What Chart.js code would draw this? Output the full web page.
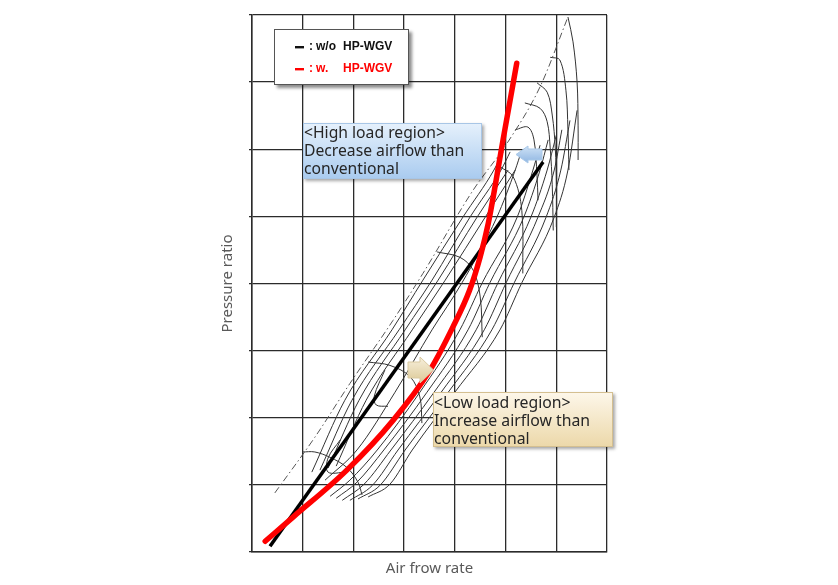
<!DOCTYPE html>
<html>
<head>
<meta charset="utf-8">
<script src="https://cdn.jsdelivr.net/npm/chart.js@4"></script>
<style>
  html, body { margin: 0; padding: 0; background: #fff; }
  canvas { display: block; }
</style>
</head>
<body>
<canvas id="mapChart" width="838" height="585"></canvas>
<script>
// Axis labels
const xTitle = 'Air frow rate';
const yTitle = 'Pressure ratio';

// Operating lines [air flow, pressure ratio] (grid units, 7 x 8 cells)
const withoutWGV = [[3.55, 0.85], [57.4, 58.1]];
const withWGV = [[2.6, 1.6], [8.1, 5.2], [18.7, 12.2], [27.8, 19.6], [35.1, 27.1],
  [39.6, 33.5], [42.9, 39.0], [45.0, 44.0], [46.6, 49.0], [47.8, 53.9], [49.5, 61.4], [52.2, 72.8]];

// Surge line
const surgeLine = [[4.5, 8.8], [12.4, 17.1], [19.3, 25.1], [27.8, 34.5], [33.7, 41.5],
  [43.6, 53.9], [50.3, 60.9], [56.8, 69.3], [62.3, 79.7]];

// Efficiency contours (thin diagonal lines)
const contours = [
  [[11.8, 11.9], [18.3, 22.6], [27.6, 33.1], [33.7, 40.5], [41.6, 49.9], [47.7, 56.9], [49.5, 59.6]],
  [[13.4, 12.2], [19.7, 22.6], [29.0, 33.1], [35.5, 40.5], [43.0, 49.9], [49.1, 56.9], [50.9, 59.6]],
  [[15.0, 12.5], [21.1, 22.6], [30.2, 33.1], [36.7, 40.5], [44.4, 49.9], [50.5, 56.9]],
  [[16.6, 12.8], [22.5, 22.6], [31.6, 33.1], [38.1, 40.5], [46.0, 49.9], [51.9, 56.9]],
  [[14.4, 10.7], [20.7, 15.2], [28.2, 23.8], [35.5, 33.1], [41.4, 40.1], [48.3, 49.9], [51.9, 56.9], [53.2, 59.9]],
  [[15.4, 8.3], [19.3, 10.7], [24.7, 15.2], [33.1, 23.8], [41.0, 33.1], [45.4, 40.1], [52.3, 49.9], [55.4, 56.9], [56.8, 60.6]],
  [[16.6, 8.0], [20.7, 10.4], [26.0, 15.2], [34.5, 23.8], [42.6, 33.1], [46.9, 40.1], [53.6, 49.9], [56.8, 56.9], [58.4, 61.4]],
  [[17.8, 7.7], [22.1, 10.1], [27.4, 15.2], [35.9, 23.8], [44.2, 33.1], [48.5, 40.1], [55.0, 49.9], [58.2, 56.9], [60.0, 62.1]],
  [[19.3, 7.7], [23.7, 9.9], [28.8, 15.2], [37.3, 23.8], [45.8, 33.1], [50.1, 40.1], [56.4, 49.9], [59.6, 56.9], [61.1, 62.9]],
  [[20.9, 7.9], [25.2, 9.9], [30.2, 15.2], [38.7, 23.8], [47.3, 33.1], [51.7, 40.1], [58.0, 49.9], [60.9, 56.9], [62.7, 64.3]],
  [[22.9, 8.2], [27.2, 10.1], [31.6, 15.2], [40.0, 23.8], [48.9, 33.1], [53.2, 40.1], [59.6, 49.9], [62.3, 56.9], [64.1, 65.8]],
  [[17.4, 16.7], [15.0, 14.0], [15.0, 11.9], [18.5, 11.9]],
  [[26.2, 27.1], [24.1, 23.2], [24.5, 21.9], [26.8, 21.7]]
];

// Speed lines
const speedLines = [
  [[9.9, 14.9], [12.4, 14.9], [15.4, 14.1], [18.7, 12.6], [20.9, 10.4], [21.7, 8.5]],
  [[22.9, 28.3], [27.2, 27.8], [31.2, 26.1], [33.1, 23.1], [33.5, 19.2]],
  [[36.5, 44.7], [41.0, 43.9], [43.6, 42.0], [45.0, 38.0], [45.4, 32.0]],
  [[48.9, 57.4], [51.5, 55.9], [53.2, 50.9], [53.4, 41.5]],
  [[51.9, 62.9], [54.4, 63.3], [55.6, 61.4], [56.2, 56.1], [56.4, 52.4]],
  [[53.8, 66.9], [56.8, 66.1], [58.2, 64.1], [58.8, 60.2], [59.2, 54.7], [59.4, 47.9]],
  [[56.2, 69.9], [58.2, 68.5], [59.2, 65.1], [59.8, 60.2], [60.0, 54.7], [60.0, 48.4]],
  [[58.8, 73.7], [60.7, 73.3], [61.9, 68.8], [62.3, 62.9], [62.5, 56.9]],
  [[62.3, 79.7], [63.3, 76.0], [64.1, 70.0], [64.3, 63.6], [64.3, 58.4]]
];

const highLoadText = ['<High load region>', 'Decrease airflow than', 'conventional'];
const lowLoadText = ['<Low load region>', 'Increase airflow than', 'conventional'];

const toXY = pts => pts.map(p => ({ x: p[0], y: p[1] }));

function fitFont(ctx, text, width, family) {
    ctx.font = '16px "' + family + '"';
    const size = 16 * width / ctx.measureText(text).width;
    return size.toFixed(1) + 'px "' + family + '"';
}

function drawNote(ctx, box, lines, colors, fitWidth) {
    ctx.save();
    ctx.shadowColor = 'rgba(0,0,0,0.35)';
    ctx.shadowOffsetX = 2;
    ctx.shadowOffsetY = 2;
    ctx.shadowBlur = 3;
    const g = ctx.createLinearGradient(0, box.y, 0, box.y + box.h);
    g.addColorStop(0, colors[0]);
    g.addColorStop(1, colors[1]);
    ctx.fillStyle = g;
    ctx.fillRect(box.x, box.y, box.w, box.h);
    ctx.restore();
    ctx.save();
    ctx.strokeStyle = colors[2];
    ctx.lineWidth = 1;
    ctx.strokeRect(box.x + 0.5, box.y + 0.5, box.w - 1, box.h - 1);
    ctx.fillStyle = '#262626';
    ctx.font = fitFont(ctx, lines[1], fitWidth, 'Noto Sans');
    ctx.textBaseline = 'middle';
    lines.forEach((t, i) => ctx.fillText(t, box.x + 1, box.y + 11 + i * 18));
    ctx.restore();
}

function drawArrow(ctx, pts, colors) {
    ctx.save();
    const ys = pts.map(p => p[1]);
    const g = ctx.createLinearGradient(0, Math.min(...ys), 0, Math.max(...ys));
    g.addColorStop(0, colors[0]);
    g.addColorStop(1, colors[1]);
    ctx.beginPath();
    pts.forEach((p, i) => i ? ctx.lineTo(p[0], p[1]) : ctx.moveTo(p[0], p[1]));
    ctx.closePath();
    ctx.fillStyle = g;
    ctx.fill();
    ctx.strokeStyle = colors[2];
    ctx.lineWidth = 1;
    ctx.stroke();
    ctx.restore();
}

const overlays = {
    id: 'overlays',
    afterDatasetsDraw(chart) {
        const ctx = chart.ctx;

        // legend box
        ctx.save();
        ctx.shadowColor = 'rgba(0,0,0,0.45)';
        ctx.shadowOffsetX = 3;
        ctx.shadowOffsetY = 3;
        ctx.shadowBlur = 3;
        ctx.fillStyle = '#fff';
        ctx.fillRect(274, 29, 135, 56);
        ctx.restore();
        ctx.save();
        ctx.strokeStyle = '#555';
        ctx.lineWidth = 1;
        ctx.strokeRect(274.5, 29.5, 134, 55);
        ctx.font = 'bold 12px "Liberation Sans"';
        ctx.textBaseline = 'middle';
        [['w/o', '#111', 47], ['w.', '#ff0000', 69]].forEach(r => {
            ctx.fillStyle = r[1];
            ctx.fillRect(295, r[2] - 1, 9, 2.4);
            ctx.fillText(':', 309, r[2]);
            ctx.fillText(r[0], 316, r[2]);
            ctx.fillText('HP-WGV', 343, r[2]);
        });
        ctx.restore();

        drawNote(ctx, { x: 303, y: 123, w: 179, h: 56 }, highLoadText,
            ['#e6f1fc', '#a9cbef', '#a8c6e6'], 160);
        drawNote(ctx, { x: 433, y: 392, w: 180, h: 55 }, lowLoadText,
            ['#fdf7ea', '#ecd8a9', '#d4bf90'], 156);

        drawArrow(ctx, [[516, 154.5], [528, 146], [528, 149], [542, 149], [542, 160], [528, 160], [528, 163]],
            ['#cfe2f6', '#8fb6e2', '#a9c8e8']);
        drawArrow(ctx, [[408, 362], [420, 362], [420, 357], [433.5, 370], [420, 383], [420, 378], [408, 378]],
            ['#f7efdc', '#dcc996', '#d9c9a0']);
    }
};

document.addEventListener('DOMContentLoaded', function() {
    const thin = (pts, mono) => ({
        data: toXY(pts), showLine: true, borderColor: '#333', borderWidth: 1,
        pointRadius: 0, tension: 0.35, fill: false,
        cubicInterpolationMode: mono ? 'monotone' : 'default'
    });

    const datasets = [{
        label: 'w. HP-WGV',
        data: toXY(withWGV), showLine: true, borderColor: '#ff0000', borderWidth: 5.5,
        pointRadius: 0, cubicInterpolationMode: 'monotone', borderCapStyle: 'round'
    }, {
        label: 'w/o HP-WGV',
        data: toXY(withoutWGV), showLine: true, borderColor: '#000', borderWidth: 3.5,
        pointRadius: 0, tension: 0
    }, {
        label: 'Surge',
        data: toXY(surgeLine), showLine: true, borderColor: '#555', borderWidth: 1,
        borderDash: [7, 3, 1.5, 3], pointRadius: 0, cubicInterpolationMode: 'monotone'
    }];
    contours.forEach((c, i) => datasets.push(thin(c, i < 11)));
    speedLines.forEach(s => datasets.push(thin(s, false)));

    const gridStyle = { color: '#2b2b2b', lineWidth: 1.3 };
    const titleFont = { family: 'Noto Sans', size: 15 };

    new Chart(document.getElementById('mapChart'), {
        type: 'scatter',
        data: { datasets: datasets },
        options: {
            responsive: false,
            animation: false,
            layout: { padding: { left: 210, right: 231, top: 15, bottom: 0 } },
            plugins: { legend: { display: false }, tooltip: { enabled: false } },
            scales: {
                x: {
                    type: 'linear', min: 0, max: 70,
                    ticks: { display: false, stepSize: 10 },
                    grid: Object.assign({ drawTicks: false }, gridStyle),
                    border: { color: '#2b2b2b', width: 1.5 },
                    title: { display: true, text: xTitle, color: '#595959', font: titleFont, padding: { top: 0, bottom: 7 } },
                    afterFit: s => { s.height = 33; }
                },
                y: {
                    type: 'linear', min: 0, max: 80,
                    ticks: { display: false, stepSize: 10 },
                    grid: Object.assign({ tickLength: 3 }, gridStyle),
                    border: { color: '#2b2b2b', width: 1.5 },
                    title: { display: true, text: yTitle, color: '#595959', font: titleFont, padding: { top: 9, bottom: 0 } },
                    afterFit: s => { s.width = 42; }
                }
            }
        },
        plugins: [overlays]
    });
});
</script>
</body>
</html>
